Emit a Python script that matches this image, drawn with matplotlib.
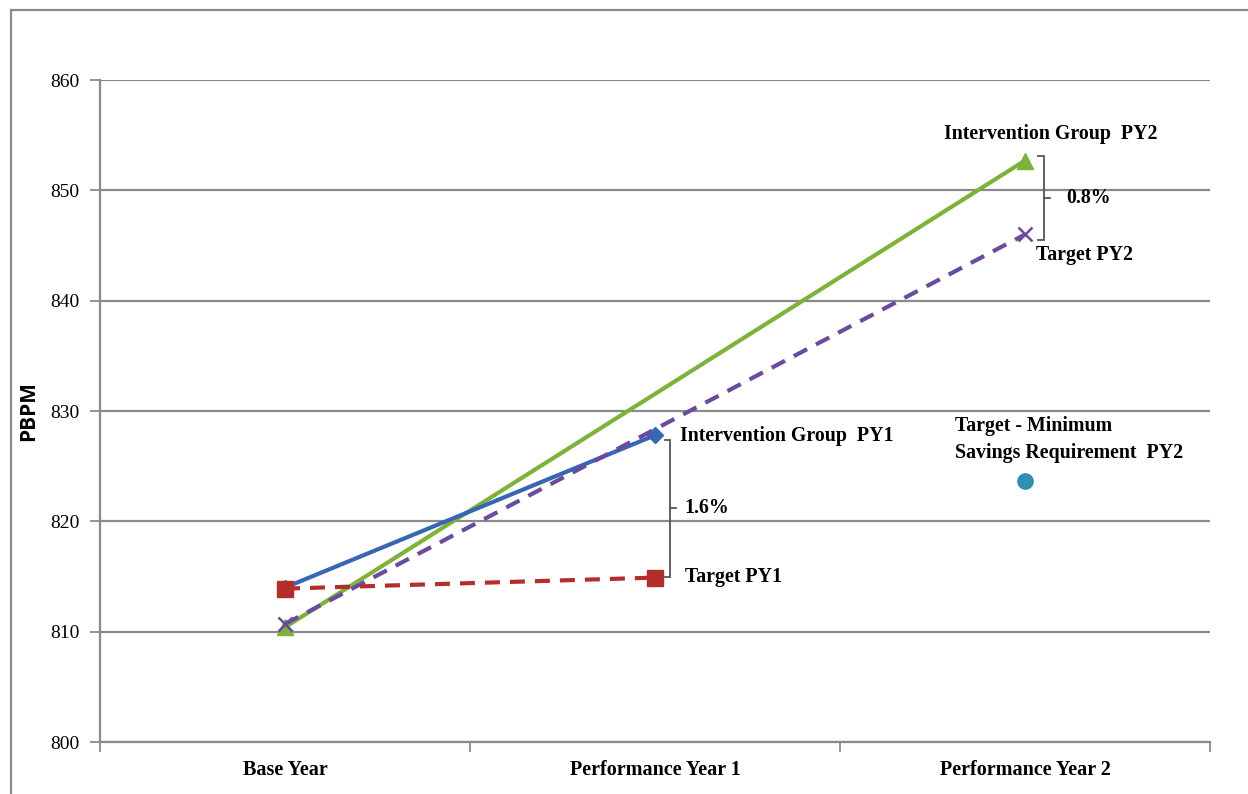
import matplotlib
matplotlib.use("Agg")
import matplotlib.pyplot as plt
from matplotlib.patches import Rectangle

# Per-beneficiary-per-month cost by period
categories = ["Base Year", "Performance Year 1", "Performance Year 2"]
interv_py1 = [814.0, 827.8]          # Base Year, PY1
target_py1 = [813.9, 814.9]          # Base Year, PY1
interv_py2 = [810.4, 852.7]          # Base Year, PY2
target_py2 = [810.7, 846.0]          # Base Year, PY2
min_savings_py2 = 823.7              # PY2
gap_py1 = "1.6%"
gap_py2 = "0.8%"
y_ticks = [800, 810, 820, 830, 840, 850, 860]

BLUE = "#3767b4"
RED = "#b32d2b"
GREEN = "#7fb23b"
PURPLE = "#6a4b9d"
TEAL = "#2d8fb1"
GRID = "#8a8a8a"
SERIF = ["Liberation Serif", "DejaVu Serif"]

fig = plt.figure(figsize=(12.48, 7.94), dpi=100)
W, H = 1248, 794
ax = fig.add_axes([100 / W, 1 - 742 / H, 1110 / W, 662 / H])

# outer chart-area frame (left and top edges visible)
fig.patches.append(Rectangle((11 / W, -0.1), 1.2, 1 - 10 / H + 0.1,
                             transform=fig.transFigure, fill=False,
                             edgecolor=GRID, linewidth=1.6))

x0, x1, x2 = 0, 1, 2
dash = (3.6, 2.4)

ax.plot([x0, x2], target_py2, color=PURPLE, lw=3, linestyle=(0, dash),
        marker="x", markersize=10, markeredgewidth=1.8, zorder=4)
ax.plot([x0, x2], interv_py2, color=GREEN, lw=3, marker="^",
        markersize=11, zorder=3)
ax.plot([x0, x1], interv_py1, color=BLUE, lw=3, marker="D",
        markersize=8, zorder=3)
ax.plot([x0, x1], target_py1, color=RED, lw=3, linestyle=(0, dash),
        marker="s", markersize=11, zorder=5)
ax.plot([x2], [min_savings_py2], color=TEAL, marker="o", markersize=11,
        linestyle="none", zorder=5)

FS = 14.3


def bracket(xb, top, bottom, label, lx):
    hook = 0.014
    ax.plot([xb - hook, xb, xb, xb - hook], [top, top, bottom, bottom],
            color="#555555", lw=1.3, zorder=6, solid_joinstyle="miter")
    mid = (top + bottom) / 2
    ax.plot([xb, xb + 0.018], [mid, mid], color="#555555", lw=1.3, zorder=6)
    ax.text(lx, mid, label, fontsize=FS, fontweight="bold", family=SERIF,
            ha="left", va="center")


bracket(1.04, interv_py1[1] - 0.4, target_py1[1] + 0.1, gap_py1, 1.08)
bracket(2.05, interv_py2[1] + 0.4, target_py2[1] - 0.5, gap_py2, 2.111)

tkw = dict(fontsize=FS, fontweight="bold", family=SERIF)
ax.text(1.067, interv_py1[1] - 0.1, "Intervention Group  PY1", ha="left",
        va="center", **tkw)
ax.text(1.08, target_py1[1] + 0.1, "Target PY1", ha="left", va="center", **tkw)
ax.text(2.07, interv_py2[1] + 2.4, "Intervention Group  PY2", ha="center",
        va="center", **tkw)
ax.text(2.03, target_py2[1] - 1.9, "Target PY2", ha="left", va="center", **tkw)
ax.text(1.811, min_savings_py2 + 3.7, "Target - Minimum\nSavings Requirement  PY2",
        ha="left", va="center", linespacing=1.5, **tkw)

ax.set_xlim(-0.5, 2.5)
ax.set_ylim(800, 860)
ax.set_yticks(y_ticks)
ax.set_yticklabels([str(v) for v in y_ticks], family=SERIF, fontsize=14)
ax.set_xticks([x0, x1, x2])
ax.set_xticklabels(categories, family=SERIF, fontsize=14.5, fontweight="bold")
ax.set_xticks([-0.5, 0.5, 1.5, 2.5], minor=True)
ax.tick_params(axis="x", which="major", length=0, pad=13)
ax.tick_params(axis="x", which="minor", length=7, width=1.3, color=GRID)
ax.tick_params(axis="y", length=7, width=1.3, color=GRID, pad=8)
ax.grid(axis="y", color=GRID, lw=1.6)
ax.set_axisbelow(True)
for s in ["top", "right"]:
    ax.spines[s].set_visible(False)
for s in ["left", "bottom"]:
    ax.spines[s].set_color(GRID)
    ax.spines[s].set_linewidth(1.6)
ax.set_ylabel("PBPM", fontsize=15, fontweight="bold",
              family=["Open Sans", "DejaVu Sans"], labelpad=8)

fig.savefig("out.png", dpi=100, facecolor="white")
